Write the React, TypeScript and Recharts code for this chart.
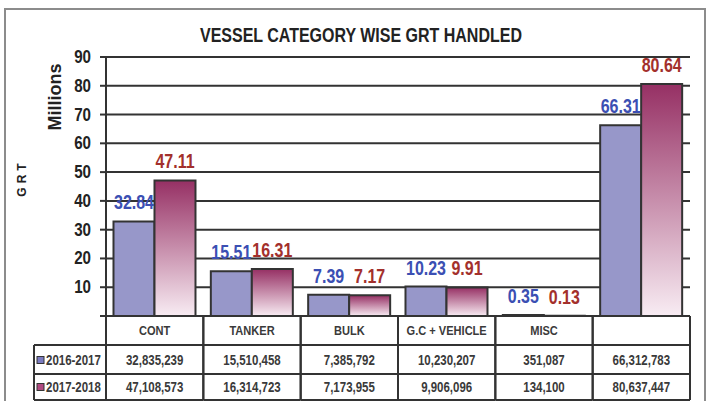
import React from 'react';
import { BarChart, Bar, XAxis, YAxis, CartesianGrid, LabelList } from 'recharts';

const categories = ['CONT', 'TANKER', 'BULK', 'G.C + VEHICLE', 'MISC', 'TOTAL'];
const categoryLabels = ['CONT', 'TANKER', 'BULK', 'G.C + VEHICLE', 'MISC', ''];
const grt2016 = [32.84, 15.51, 7.39, 10.23, 0.35, 66.31];
const grt2017 = [47.11, 16.31, 7.17, 9.91, 0.13, 80.64];
const raw2016 = ['32,835,239', '15,510,458', '7,385,792', '10,230,207', '351,087', '66,312,783'];
const raw2017 = ['47,108,573', '16,314,723', '7,173,955', '9,906,096', '134,100', '80,637,447'];
const seriesNames = ['2016-2017', '2017-2018'];
const yTicks = [0, 10, 20, 30, 40, 50, 60, 70, 80, 90];

const data = categories.map((name, i) => ({
  name,
  label: categoryLabels[i],
  y2016: grt2016[i],
  y2017: grt2017[i],
  raw2016: raw2016[i],
  raw2017: raw2017[i],
}));

const FONT = "'Liberation Sans', Arial, sans-serif";
const SQUEEZE = 0.82; // the original uses a narrow face
const LINE = '#333';
const TEXT = '#3a3a3a';
const BLUE = '#9797c9';

function NarrowText({ x, y, anchor = 'middle', size, fill, baseline = 'central', children }: any) {
  return (
    <text
      transform={`translate(${x},${y}) scale(${SQUEEZE},1)`}
      x={0}
      y={0}
      textAnchor={anchor}
      dominantBaseline={baseline}
      fontFamily={FONT}
      fontWeight="bold"
      fontSize={size}
      fill={fill}
    >
      {children}
    </text>
  );
}

// one column of the data table under the chart, drawn from the x axis tick
function TableTick(props: any) {
  const { x, y, payload, index } = props;
  const half = payload.offset ?? 48.7;
  const d = data[index];
  const l = x - half;
  const r = x + half;
  const rows = [29, 58, 84];
  const legendLeft = l - 72;
  return (
    <g>
      <line x1={l} x2={l} y1={y} y2={y + 84} stroke={LINE} strokeWidth={2} />
      <line x1={r} x2={r} y1={y} y2={y + 84} stroke={LINE} strokeWidth={2} />
      {rows.map((dy) => (
        <line key={dy} x1={l} x2={r} y1={y + dy} y2={y + dy} stroke={LINE} strokeWidth={2} />
      ))}
      <NarrowText x={x} y={y + 15} size={13.5} fill={TEXT}>{d.label}</NarrowText>
      <NarrowText x={x} y={y + 44} size={14} fill={TEXT}>{d.raw2016}</NarrowText>
      <NarrowText x={x} y={y + 71} size={14} fill={TEXT}>{d.raw2017}</NarrowText>
      {index === 0 && (
        <g>
          <line x1={legendLeft} x2={legendLeft} y1={y + 29} y2={y + 84} stroke={LINE} strokeWidth={2} />
          {rows.map((dy) => (
            <line key={dy} x1={legendLeft} x2={l} y1={y + dy} y2={y + dy} stroke={LINE} strokeWidth={2} />
          ))}
          <rect x={legendLeft + 3} y={y + 40.5} width={7} height={7} fill="#7b7bc0" stroke={LINE} strokeWidth={1} />
          <NarrowText x={legendLeft + 12} y={y + 44} anchor="start" size={14} fill={TEXT}>{seriesNames[0]}</NarrowText>
          <rect x={legendLeft + 3} y={y + 67.5} width={7} height={7} fill="#b04a80" stroke={LINE} strokeWidth={1} />
          <NarrowText x={legendLeft + 12} y={y + 71} anchor="start" size={14} fill={TEXT}>{seriesNames[1]}</NarrowText>
        </g>
      )}
    </g>
  );
}

function YTick(props: any) {
  const { x, y, payload } = props;
  if (payload.value === 0) return null;
  return (
    <NarrowText x={x} y={y} anchor="end" size={18.5} fill="#222">{payload.value}</NarrowText>
  );
}

function valueLabel(color: string) {
  return (props: any) => {
    const { x, y, width, value } = props;
    return (
      <NarrowText x={Number(x) + Number(width) / 2} y={Number(y) - 12} size={19.5} fill={color} baseline="auto">
        {Number(value).toFixed(2)}
      </NarrowText>
    );
  };
}

export default function App() {
  return (
    <div style={{ position: 'fixed', left: 0, top: 0, width: 707, height: 401, background: '#fff', overflow: 'hidden' }}>
      <div
        style={{
          position: 'absolute',
          left: 4,
          top: 8,
          width: 698,
          height: 420,
          borderTop: '2px solid #8c8c8c',
          borderLeft: '2px solid #8c8c8c',
          borderRight: '2px solid #8c8c8c',
        }}
      />
      <div
        style={{
          position: 'absolute',
          left: 161,
          top: 24,
          width: 400,
          textAlign: 'center',
          fontFamily: FONT,
          fontWeight: 'bold',
          fontSize: 19.5,
          color: '#222',
          whiteSpace: 'nowrap',
          transform: `scaleX(${SQUEEZE})`,
        }}
      >
        VESSEL CATEGORY WISE GRT HANDLED
      </div>
      <div
        style={{
          position: 'absolute',
          left: 55,
          top: 97,
          transform: 'translate(-50%, -50%) rotate(-90deg)',
          fontFamily: FONT,
          fontWeight: 'bold',
          fontSize: 18,
          color: '#222',
          whiteSpace: 'nowrap',
        }}
      >
        Millions
      </div>
      <div
        style={{
          position: 'absolute',
          left: 22,
          top: 178,
          transform: 'translate(-50%, -50%) rotate(-90deg)',
          fontFamily: FONT,
          fontWeight: 'bold',
          fontSize: 12,
          letterSpacing: 4,
          color: '#222',
          whiteSpace: 'nowrap',
        }}
      >
        GRT
      </div>
      <div style={{ position: 'absolute', left: 0, top: 0 }}>
        <BarChart
          width={707}
          height={401}
          data={data}
          margin={{ top: 57, right: 17, left: 0, bottom: 0 }}
          barCategoryGap="7.7%"
          barGap={0}
        >
          <defs>
            <linearGradient id="redGrad" x1="0" y1="0" x2="0" y2="1">
              <stop offset="0%" stopColor="#963064" />
              <stop offset="100%" stopColor="#f8ecf3" />
            </linearGradient>
          </defs>
          <CartesianGrid vertical={false} stroke={LINE} strokeWidth={2} />
          <XAxis
            dataKey="name"
            height={85}
            interval={0}
            tickSize={0}
            tickMargin={0}
            tickLine={false}
            axisLine={{ stroke: LINE, strokeWidth: 2 }}
            tick={<TableTick />}
          />
          <YAxis
            width={106}
            domain={[0, 90]}
            ticks={yTicks}
            interval={0}
            tickSize={6}
            tickMargin={9}
            tickLine={{ stroke: LINE, strokeWidth: 2 }}
            axisLine={{ stroke: LINE, strokeWidth: 2 }}
            tick={<YTick />}
          />
          <YAxis
            yAxisId="frame"
            orientation="right"
            width={0}
            tick={false}
            tickLine={false}
            axisLine={{ stroke: LINE, strokeWidth: 2 }}
          />
          <Bar dataKey="y2016" fill={BLUE} stroke={LINE} strokeWidth={2} isAnimationActive={false}>
            <LabelList dataKey="y2016" content={valueLabel('#3b4fb3')} />
          </Bar>
          <Bar dataKey="y2017" fill="url(#redGrad)" stroke={LINE} strokeWidth={2} isAnimationActive={false}>
            <LabelList dataKey="y2017" content={valueLabel('#a3302c')} />
          </Bar>
        </BarChart>
      </div>
    </div>
  );
}
